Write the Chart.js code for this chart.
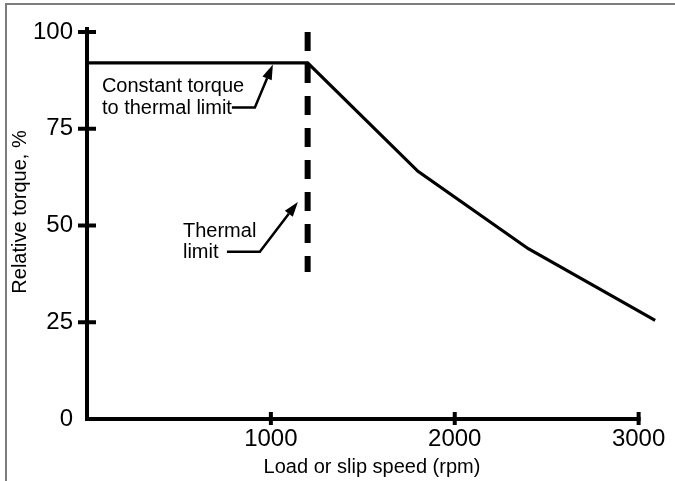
<!DOCTYPE html>
<html>
<head>
<meta charset="utf-8">
<script src="https://cdn.jsdelivr.net/npm/chart.js@4/dist/chart.umd.min.js"></script>
<style>
  body { margin: 0; background: #fff; }
  #wrap { position: relative; width: 675px; height: 481px; overflow: hidden; }
  #frame { position: absolute; left: 5px; top: 3px; width: 700px; height: 500px;
           border-top: 2px solid #7c7c7c; border-left: 2px solid #7c7c7c; }
  canvas { position: absolute; left: 0; top: 0; }
</style>
</head>
<body>
<div id="wrap">
  <div id="frame"></div>
  <canvas id="torqueChart" width="675" height="481"></canvas>
</div>
<script>
// torque curve (rpm, %)
const speed = [0, 1200, 1800, 2400, 3090];
const torque = [92, 92, 64, 44, 25.5];

// thermal limit marker
const limitSpeed = [1200, 1200];
const limitTorque = [100, 38];

const xTicks = [1000, 2000, 3000];
const yTicks = [0, 25, 50, 75, 100];

const xTitle = 'Load or slip speed (rpm)';
const yTitle = 'Relative torque, %';
const yTitleCenter = 53.5;   // value the rotated title is centred on

// annotations, in data units
const constText = ['Constant torque', 'to thermal limit'];
const constTextAt = [81, 84.6, 78.7];          // x, baseline line 1, baseline line 2
const constArrow = [[788, 80.5], [913, 80.5], [1011, 91.6]];
const thermalText = ['Thermal', 'limit'];
const thermalTextAt = [522, 47.1, 41.7];
const thermalArrow = [[761, 43.2], [940, 43.2], [1147, 56.1]];

const FONT = '"Liberation Sans", Arial, Helvetica, sans-serif';

function drawArrow(ctx, xs, ys, pts) {
  const p = pts.map(([a, b]) => [xs.getPixelForValue(a), ys.getPixelForValue(b)]);
  const [tx, ty] = p[p.length - 1];
  const [bx, by] = p[p.length - 2];
  const ang = Math.atan2(ty - by, tx - bx);
  const headLen = 15, headW = 5;
  const hx = tx - Math.cos(ang) * headLen, hy = ty - Math.sin(ang) * headLen;

  ctx.lineWidth = 2.5;
  ctx.beginPath();
  ctx.moveTo(p[0][0], p[0][1]);
  for (let i = 1; i < p.length - 1; i++) ctx.lineTo(p[i][0], p[i][1]);
  ctx.lineTo(hx, hy);
  ctx.stroke();

  ctx.beginPath();
  ctx.moveTo(tx, ty);
  ctx.lineTo(hx + Math.sin(ang) * headW, hy - Math.cos(ang) * headW);
  ctx.lineTo(hx - Math.sin(ang) * headW, hy + Math.cos(ang) * headW);
  ctx.closePath();
  ctx.fill();
}

const axesPlugin = {
  id: 'axesPlugin',
  afterDatasetsDraw(chart) {
    const { ctx, scales: { x, y } } = chart;
    const x0 = x.getPixelForValue(0);
    const y0 = y.getPixelForValue(0);
    ctx.save();
    ctx.strokeStyle = '#000';
    ctx.fillStyle = '#000';
    ctx.lineCap = 'butt';
    ctx.lineJoin = 'miter';

    // axis lines
    ctx.lineWidth = 4;
    ctx.beginPath();
    ctx.moveTo(x0, y.getPixelForValue(yTicks[yTicks.length - 1]) - 5);
    ctx.lineTo(x0, y0);
    ctx.lineTo(x.getPixelForValue(xTicks[xTicks.length - 1]) + 2, y0);
    ctx.stroke();

    // tick marks crossing the axes
    yTicks.forEach(v => {
      if (v === 0) return;
      const p = y.getPixelForValue(v);
      ctx.beginPath();
      ctx.moveTo(x0 - 9, p);
      ctx.lineTo(x0 + 9, p);
      ctx.stroke();
    });
    xTicks.forEach(v => {
      const p = x.getPixelForValue(v);
      ctx.beginPath();
      ctx.moveTo(p, y0 - 7);
      ctx.lineTo(p, y0 + 6);
      ctx.stroke();
    });

    // y title, sits a bit above the middle of the axis
    ctx.save();
    ctx.font = '20px ' + FONT;
    ctx.translate(20, y.getPixelForValue(yTitleCenter));
    ctx.rotate(-Math.PI / 2);
    ctx.textAlign = 'center';
    ctx.textBaseline = 'middle';
    ctx.fillText(yTitle, 0, 0);
    ctx.restore();

    // notes
    ctx.font = '20px ' + FONT;
    ctx.textAlign = 'left';
    ctx.textBaseline = 'alphabetic';
    constText.forEach((t, i) => {
      ctx.fillText(t, x.getPixelForValue(constTextAt[0]), y.getPixelForValue(constTextAt[i + 1]));
    });
    thermalText.forEach((t, i) => {
      ctx.fillText(t, x.getPixelForValue(thermalTextAt[0]), y.getPixelForValue(thermalTextAt[i + 1]));
    });
    drawArrow(ctx, x, y, constArrow);
    drawArrow(ctx, x, y, thermalArrow);
    ctx.restore();
  }
};

const ctx = document.getElementById('torqueChart').getContext('2d');
new Chart(ctx, {
  type: 'line',
  data: {
    datasets: [{
      data: speed.map((s, i) => ({ x: s, y: torque[i] })),
      borderColor: '#000',
      borderWidth: 3.2,
      pointRadius: 0,
      tension: 0,
      fill: false,
      clip: false
    }, {
      data: limitSpeed.map((s, i) => ({ x: s, y: limitTorque[i] })),
      borderColor: '#000',
      borderWidth: 6,
      borderDash: [19, 13],
      borderCapStyle: 'butt',
      pointRadius: 0,
      fill: false,
      clip: false
    }]
  },
  options: {
    responsive: false,
    animation: false,
    devicePixelRatio: 1,
    layout: { padding: { top: 32, right: 18, left: 0, bottom: 0 } },
    plugins: {
      legend: { display: false },
      tooltip: { enabled: false }
    },
    scales: {
      x: {
        type: 'linear',
        min: 0,
        max: 3100,
        afterFit: s => { s.height = 62; },
        afterBuildTicks: s => { s.ticks = xTicks.map(v => ({ value: v })); },
        grid: { display: false, drawTicks: false },
        border: { display: false },
        ticks: {
          color: '#000',
          padding: 6,
          maxRotation: 0,
          autoSkip: false,
          callback: v => String(v),
          font: { family: FONT, size: 24 }
        },
        title: {
          display: true,
          text: xTitle,
          color: '#000',
          padding: { top: 0, bottom: 2 },
          font: { family: FONT, size: 20 }
        }
      },
      y: {
        type: 'linear',
        min: 0,
        max: 100,
        afterFit: s => { s.width = 87; },
        afterBuildTicks: s => { s.ticks = yTicks.map(v => ({ value: v })); },
        grid: { display: false, drawTicks: false },
        border: { display: false },
        ticks: {
          color: '#000',
          padding: 14,
          autoSkip: false,
          callback: v => String(v),
          font: { family: FONT, size: 24 }
        },
        title: { display: false }
      }
    }
  },
  plugins: [axesPlugin]
});
</script>
</body>
</html>
